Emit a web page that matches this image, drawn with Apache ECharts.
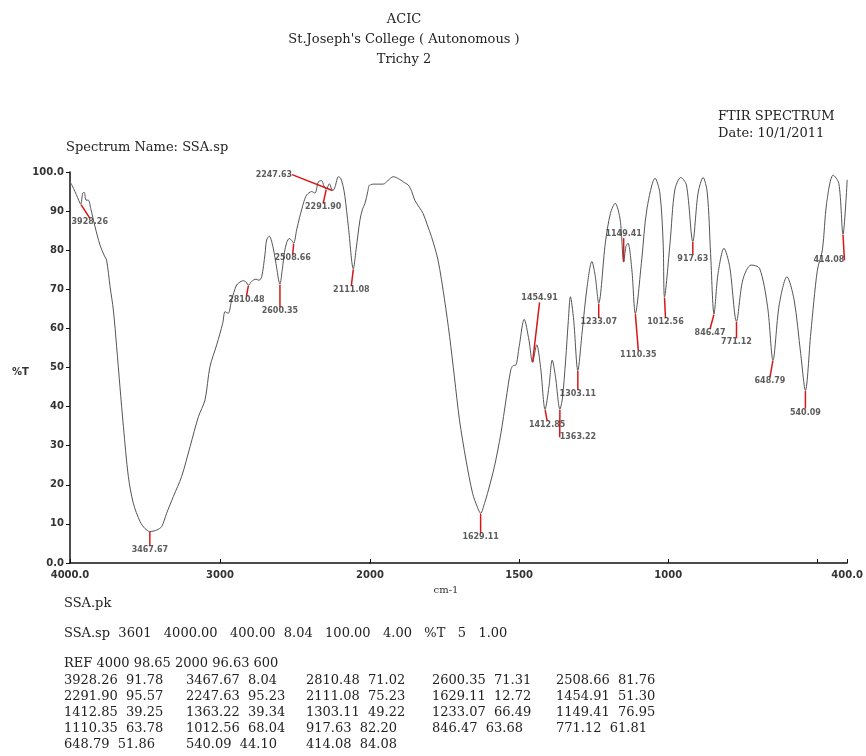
<!DOCTYPE html>
<html><head><meta charset="utf-8">
<script src="https://cdn.jsdelivr.net/npm/echarts@6/dist/echarts.min.js"></script>
<style>html,body{margin:0;padding:0;background:#fff}#c{width:866px;height:756px}</style>
</head><body><div id="c"></div>
<script>
// ---- spectrum, 4000-2000 cm-1 section (compressed scale) : [wavenumber, %T]
const spectrumHigh = [
[4000,97.5],[3985,96.5],[3967,95.0],[3950,93.5],[3933,92.0],[3928.26,91.78],[3915,94.6],[3905,94.8],
[3893,92.8],[3878,92.8],[3862,90.7],[3833,86.0],[3800,81.3],[3770,78.5],[3756,77.5],[3733,70.7],
[3711,64.7],[3689,55.3],[3667,45.1],[3644,34.9],[3611,22.1],[3578,15.3],[3533,10.6],[3500,8.8],
[3467.67,8.04],[3440,8.2],[3422,8.4],[3389,9.3],[3356,12.7],[3311,17.0],[3256,22.1],[3200,29.7],
[3144,37.4],[3100,41.7],[3067,50.2],[3022,55.8],[2982,61.3],[2967,64.3],[2955,64.0],[2944,63.9],
[2922,67.3],[2889,71.1],[2860,72.0],[2844,72.2],[2825,71.8],[2810.48,71.02],[2790,72.0],[2760,72.6],
[2740,72.3],[2722,73.2],[2700,79.0],[2689,82.6],[2671,83.6],[2656,82.3],[2640,79.5],[2627,76.6],
[2600.35,71.31],[2585,75.0],[2570,79.5],[2555,82.0],[2538,83.0],[2520,82.4],[2508.66,81.76],[2489,85.2],
[2470,88.3],[2456,90.3],[2440,92.5],[2422,94.1],[2389,95.0],[2367,94.6],[2344,97.5],[2322,97.8],
[2307,96.4],[2291.90,95.57],[2271,97.0],[2256,95.6],[2247.63,95.23],[2233,96.2],[2211,98.8],[2196,98.4],
[2180,96.5],[2167,93.7],[2144,86.0],[2111.08,75.23],[2093,80.1],[2067,87.7],[2050,90.5],[2033,92.0],
[2015,95.0],[2004,96.7],[2000,96.63]
];
// ---- spectrum, 2000-400 cm-1 section : [wavenumber, %T]
const spectrumLow = [
[2000,96.63],[1990,96.9],[1970,96.9],[1956,96.9],[1940,97.8],[1922,98.8],[1900,98.1],[1885,97.3],
[1872,96.7],[1860,95.0],[1850,92.8],[1835,91.0],[1822,89.4],[1808,86.5],[1794,83.5],[1772,77.5],
[1750,67.3],[1733,57.9],[1717,47.6],[1700,36.6],[1678,26.3],[1656,17.8],[1640,14.3],[1629.11,12.72],
[1615,15.5],[1606,17.8],[1583,24.6],[1561,33.2],[1544,41.7],[1528,49.4],[1520,50.5],[1511,50.6],
[1500,55.3],[1483,62.3],[1467,57.0],[1454.91,51.30],[1441,55.8],[1428,50.0],[1412.85,39.25],[1400,45.1],
[1389,51.9],[1378,47.6],[1363.22,39.34],[1355,42.0],[1344,51.9],[1335,62.0],[1328,68.1],[1317,62.1],
[1303.11,49.22],[1289,58.8],[1272,70.7],[1256,77.1],[1245,73.5],[1233.07,66.49],[1211,81.8],[1194,89.4],
[1178,92.0],[1161,87.7],[1149.41,76.95],[1142,80.9],[1135,81.8],[1122,75.0],[1110.35,63.78],[1089,77.5],
[1072,90.3],[1044,98.4],[1028,94.6],[1017,81.8],[1012.56,68.04],[994,81.8],[978,95.4],[958,98.6],
[939,96.7],[917.63,82.20],[900,94.6],[883,98.6],[869,94.6],[858,79.2],[846.47,63.68],[833,74.0],
[813,80.5],[794,75.8],[771.12,61.81],[750,72.4],[722,76.2],[694,75.4],[667,65.6],[648.79,51.86],
[628,66.0],[602,73.2],[578,67.3],[556,53.6],[540.09,44.10],[522,58.8],[500,74.9],[483,80.1],
[469,92.0],[447,99.2],[428,97.1],[414.08,84.08],[400,98.0]
];
// ---- peak table
const peakWn = [3928.26,3467.67,2810.48,2600.35,2508.66,2291.90,2247.63,2111.08,1629.11,1454.91,
  1412.85,1363.22,1303.11,1233.07,1149.41,1110.35,1012.56,917.63,846.47,771.12,648.79,540.09,414.08];
const peakT = [91.78,8.04,71.02,71.31,81.76,95.57,95.23,75.23,12.72,51.30,
  39.25,39.34,49.22,66.49,76.95,63.78,68.04,82.20,63.68,61.81,51.86,44.10,84.08];
// ---- axis ticks
const xTicksHigh = [4000,3000,2000];
const xLabelsHigh = [4000,3000];
const xTicksLow = [2000,1500,1000,500,400];
const xLabelsLow = [2000,1500,1000,400];
// ---- text
const headerLines = ['ACIC', "St.Joseph's College ( Autonomous )", 'Trichy 2'];
const specInfo = 'SSA.sp  3601   4000.00   400.00  8.04   100.00   4.00   %T   5   1.00';
const refLine = 'REF 4000 98.65 2000 96.63 600';

// label placement (pixel offsets of each peak label from its peak), styling only
const labelOffsets = [[9,18],[0,18],[-2,15],[0,27],[-1,15],[-3,18],[-59,-16],[-2,21],[0,24],[7,-64],
  [2,15],[18,28],[0,23],[0,19],[0,-28],[3,41],[1,25],[0,17],[-4,19],[0,21],[-3,21],[0,22],[-14,26]];

const chart = echarts.init(document.getElementById('c'), null, {renderer:'canvas'});
const lblFont = {fontFamily:'DejaVu Sans', fontWeight:'bold', fontSize:10, color:'#333'};

function peakSeries(gi, test){
  const idx = peakWn.map((w,i)=>i).filter(i=>test(peakWn[i]));
  return {
    type:'scatter', xAxisIndex:gi, yAxisIndex:gi, z:5,
    symbol:'circle', symbolSize:1,
    itemStyle:{color:'rgba(0,0,0,0)'},
    data: idx.map(i=>[peakWn[i], peakT[i]]),
    label:{show:true, position:'inside', formatter:p=>p.value[0].toFixed(2),
      fontFamily:'DejaVu Sans', fontWeight:'bold', fontSize:8, color:'#333'},
    labelLayout: p=>({dx: labelOffsets[idx[p.dataIndex]][0], dy: labelOffsets[idx[p.dataIndex]][1], hideOverlap:false}),
    labelLine:{show:true, length2:0, lineStyle:{color:'#d81818', width:1.5}},
    emphasis:{disabled:true}
  };
}

const serif = '13px "DejaVu Serif"';
const graphics = [];
headerLines.forEach((t,i)=>graphics.push({type:'text', x:404, y:20+i*20,
  style:{text:t, font:serif, fill:'#222', textAlign:'center', textVerticalAlign:'middle'}}));
graphics.push({type:'text', x:718, y:117, style:{text:'FTIR SPECTRUM', font:serif, fill:'#222', textVerticalAlign:'middle'}});
graphics.push({type:'text', x:718, y:134, style:{text:'Date: 10/1/2011', font:serif, fill:'#222', textVerticalAlign:'middle'}});
graphics.push({type:'text', x:66, y:148, style:{text:'Spectrum Name: SSA.sp', font:serif, fill:'#222', textVerticalAlign:'middle'}});
graphics.push({type:'text', x:12, y:372, style:{text:'%T', font:'bold 10px "DejaVu Sans"', fill:'#333', textVerticalAlign:'middle'}});
graphics.push({type:'text', x:446, y:590, style:{text:'cm-1', font:'10px "DejaVu Serif"', fill:'#333', textAlign:'center', textVerticalAlign:'middle'}});
graphics.push({type:'text', x:64, y:604, style:{text:'SSA.pk', font:serif, fill:'#222', textVerticalAlign:'middle'}});
graphics.push({type:'text', x:64, y:634, style:{text:specInfo, font:serif, fill:'#222', textVerticalAlign:'middle'}});
graphics.push({type:'text', x:64, y:664, style:{text:refLine, font:serif, fill:'#222', textVerticalAlign:'middle'}});
const colX = [64,186,306,432,556];
for (let r=0; r*5<peakWn.length; r++){
  for (let c=0; c<5 && r*5+c<peakWn.length; c++){
    const i = r*5+c;
    graphics.push({type:'text', x:colX[c], y:681+r*16, style:{text:peakWn[i].toFixed(2)+'  '+peakT[i].toFixed(2),
      font:serif, fill:'#222', textVerticalAlign:'middle'}});
  }
}

const axisLineStyle = {color:'#111', width:1.5};
chart.setOption({
  animation:false,
  backgroundColor:'#fff',
  grid:[{left:70, top:172, width:300, height:391},{left:370, top:172, width:480, height:391}],
  xAxis:[
    {gridIndex:0, type:'value', min:2000, max:4000, inverse:true,
     axisLine:{lineStyle:axisLineStyle}, splitLine:{show:false},
     axisTick:{inside:true, length:4, customValues:xTicksHigh, lineStyle:{color:'#111'}},
     axisLabel:{customValues:xLabelsHigh, margin:7, ...lblFont, formatter:v=>v===4000?'4000.0':String(v)}},
    {gridIndex:1, type:'value', min:400, max:2000, inverse:true,
     axisLine:{lineStyle:axisLineStyle}, splitLine:{show:false},
     axisTick:{inside:true, length:4, customValues:xTicksLow, lineStyle:{color:'#111'}},
     axisLabel:{customValues:xLabelsLow, margin:7, ...lblFont, formatter:v=>v===400?'400.0':String(v)}}
  ],
  yAxis:[
    {gridIndex:0, type:'value', min:0, max:100, interval:10,
     axisLine:{show:true, lineStyle:axisLineStyle}, splitLine:{show:false},
     axisTick:{show:true, length:4, lineStyle:{color:'#111'}},
     axisLabel:{margin:6, ...lblFont, formatter:v=>v===100?'100.0':(v===0?'0.0':String(v))}},
    {gridIndex:1, type:'value', min:0, max:100, show:false}
  ],
  series:[
    {type:'line', xAxisIndex:0, yAxisIndex:0, data:spectrumHigh, showSymbol:false, smooth:0.3,
     lineStyle:{color:'#555', width:1}, emphasis:{disabled:true}},
    {type:'line', xAxisIndex:1, yAxisIndex:1, data:spectrumLow, showSymbol:false, smooth:0.3,
     lineStyle:{color:'#555', width:1}, emphasis:{disabled:true}},
    peakSeries(0, w=>w>=2000),
    peakSeries(1, w=>w<2000)
  ],
  graphic:graphics
});
</script></body></html>
